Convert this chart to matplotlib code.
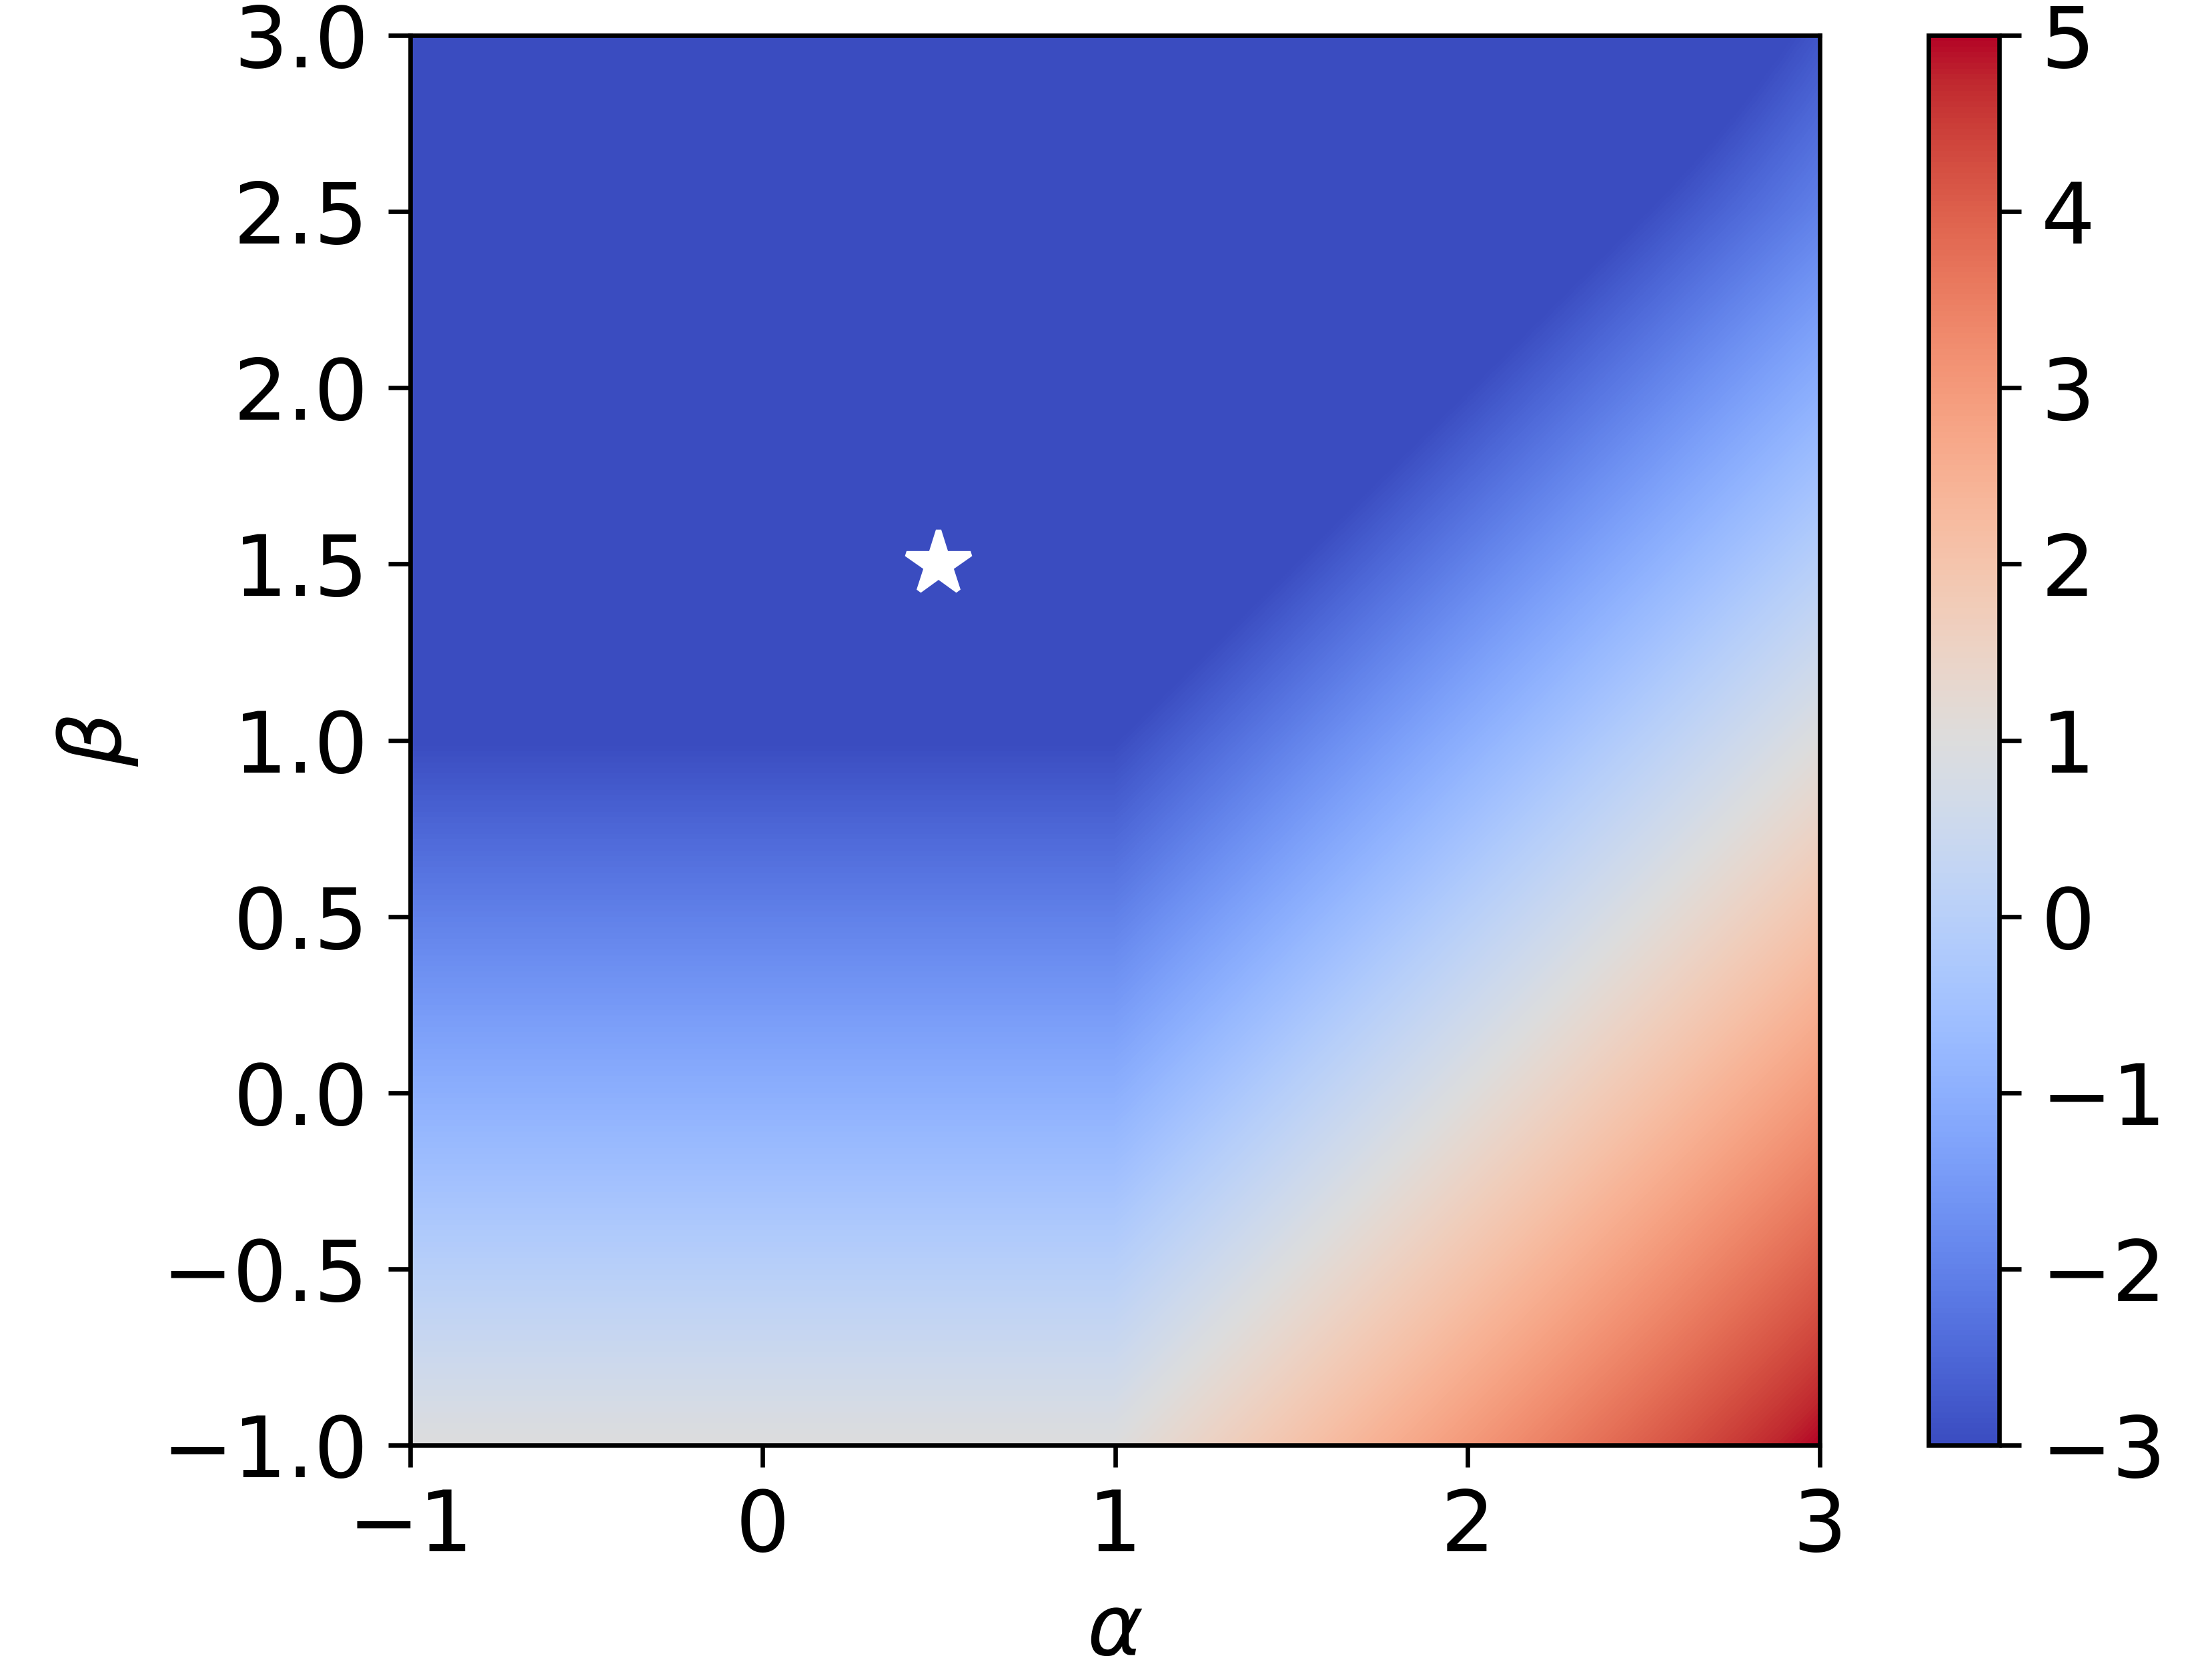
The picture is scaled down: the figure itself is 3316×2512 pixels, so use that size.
import numpy as np
import matplotlib
matplotlib.use('Agg')
import matplotlib.pyplot as plt

# grid (step 0.5)
alphas = [-1.0, -0.5, 0.0, 0.5, 1.0, 1.5, 2.0, 2.5, 3.0]
betas = [-1.0, -0.5, 0.0, 0.5, 1.0, 1.5, 2.0, 2.5, 3.0]
# rows: beta from -1 to 3, cols: alpha from -1 to 3
# values under -3 are only "below the colour range" in the picture
values = [
    [1.0, 1.0, 1.0, 1.0, 1.0, 2.0, 3.0, 4.0, 5.0],
    [0.0, 0.0, 0.0, 0.0, 0.0, 1.0, 2.0, 3.0, 4.0],
    [-1.0, -1.0, -1.0, -1.0, -1.0, 0.0, 1.0, 2.0, 3.0],
    [-2.0, -2.0, -2.0, -2.0, -2.0, -1.0, 0.0, 1.0, 2.0],
    [-3.0, -3.0, -3.0, -3.0, -3.0, -2.0, -1.0, 0.0, 1.0],
    [-4.0, -4.0, -4.0, -4.0, -4.0, -3.0, -2.0, -1.0, 0.0],
    [-4.0, -4.0, -4.0, -4.0, -4.0, -4.0, -3.0, -2.0, -1.0],
    [-4.0, -4.0, -4.0, -4.0, -4.0, -4.0, -4.0, -3.0, -2.0],
    [-4.0, -4.0, -4.0, -4.0, -4.0, -4.0, -4.0, -4.0, -2.8],
]
star_alpha = 0.5
star_beta = 1.5

plt.rcParams['font.size'] = 15.3
plt.rcParams['xtick.major.size'] = 4.0
plt.rcParams['ytick.major.size'] = 4.0

fig = plt.figure(figsize=(3316 / 600, 2512 / 600), dpi=600)
ax = fig.add_axes([0.1855, 0.1377, 0.6372, 0.8412])
cax = fig.add_axes([0.8718, 0.1377, 0.032, 0.8412])

Z = np.array(values)
da = (alphas[1] - alphas[0]) / 2
db = (betas[1] - betas[0]) / 2
im = ax.imshow(Z, origin='lower', cmap='coolwarm', vmin=-3, vmax=5,
               extent=[alphas[0] - da, alphas[-1] + da, betas[0] - db, betas[-1] + db],
               interpolation='bilinear', interpolation_stage='data', aspect='auto')
ax.plot(star_alpha, star_beta, 'w*', markersize=12)

ax.set_xlim(-1, 3)
ax.set_ylim(-1, 3)
ax.set_xticks([-1, 0, 1, 2, 3])
ax.set_yticks([-1.0, -0.5, 0.0, 0.5, 1.0, 1.5, 2.0, 2.5, 3.0])
ax.set_xlabel(r'$\alpha$')
ax.set_ylabel(r'$\beta$')

cb = fig.colorbar(im, cax=cax)
cb.set_ticks(range(-3, 6))

fig.savefig('out.png', dpi=600)
